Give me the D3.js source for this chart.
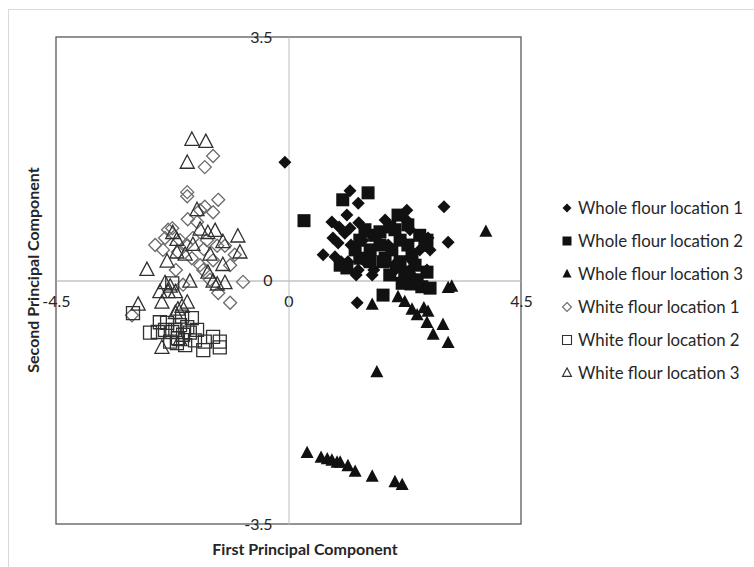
<html>
<head>
<meta charset="utf-8">
<script src="https://d3js.org/d3.v7.min.js"></script>
<style>
  body { margin: 0; background: #fff; }
  text { font-family: Lato, "Open Sans", sans-serif; fill: #262626; }
  .tick text { font-size: 16px; }
  .legend text { font-size: 16.8px; }
  .title { font-size: 16px; font-weight: bold; }
</style>
</head>
<body>
<script>
// series names (legend order)
var seriesNames = ["Whole flour location 1", "Whole flour location 2", "Whole flour location 3",
                   "White flour location 1", "White flour location 2", "White flour location 3"];
var xTicks = [-4.5, 0, 4.5];
var yTicks = [-3.5, 0, 3.5];

// whole flour location 1 (filled diamonds)
var wholeLoc1 = [[-0.07,1.70],[1.19,1.29],[1.35,1.11],[0.84,0.84],[1.19,0.75],[1.36,0.83],[0.86,0.61],
  [0.67,0.37],[1.71,0.63],[3.01,1.06],[3.09,0.55],[1.33,-0.32],[0.98,0.77],[1.09,0.68],[1.44,0.58],
  [1.60,0.65],[1.87,0.87],[2.29,1.01],[2.27,0.88],[2.35,0.73],[2.70,0.61],[2.74,0.44],[2.41,0.27],
  [2.04,0.22],[1.65,0.15],[1.35,0.15],[1.15,0.27],[0.90,0.34],[1.02,0.27],[1.31,0.08],[1.62,0.08],
  [2.06,0.15],[2.35,0.15],[2.68,0.15],[1.21,0.51],[0.96,0.54],[1.13,0.94],[1.48,0.27],[1.93,0.51],[2.54,0.44]];
// whole flour location 2 (filled squares)
var wholeLoc2 = [[0.30,0.86],[1.05,1.16],[1.54,1.26],[1.83,-0.21],[2.20,-0.04],[2.37,-0.05],[2.58,-0.09],
  [2.74,-0.11],[2.68,0.12],[1.13,0.18],[1.96,0.77],[2.68,0.58],[1.00,0.22],[1.38,0.32],[1.58,0.44],
  [1.77,0.51],[1.87,0.32],[2.00,0.44],[2.16,0.58],[2.31,0.51],[2.39,0.37],[2.06,0.73],[1.67,0.65],
  [1.48,0.73],[1.83,0.27],[2.16,0.27],[2.45,0.22],[2.64,0.51],[2.54,0.65],[2.31,0.80],[2.12,0.94],
  [1.29,0.44],[1.58,0.27],[1.96,0.08],[2.25,0.12],[1.77,0.70],[1.38,0.58],[2.49,0.01]];
// whole flour location 3 (filled triangles)
var wholeLoc3 = [[3.82,0.70],[3.09,-0.11],[3.16,-0.09],[1.71,-1.32],[1.62,-0.35],[2.41,0.08],[2.12,-0.24],
  [2.25,-0.31],[2.39,-0.42],[2.49,-0.50],[2.70,-0.45],[2.68,-0.61],[2.99,-0.64],[2.80,-0.78],[3.09,-0.90],
  [2.62,-0.40],[0.36,-2.48],[0.63,-2.55],[0.75,-2.57],[0.84,-2.59],[0.94,-2.62],[1.00,-2.62],[1.15,-2.67],
  [1.29,-2.75],[1.62,-2.82],[2.06,-2.90],[2.20,-2.94]];
// white flour location 1 (open diamonds)
var whiteLoc1 = [[-1.46,1.79],[-1.62,1.63],[-1.96,1.27],[-1.96,1.21],[-1.36,1.16],[-1.46,0.98],[-1.71,1.01],
  [-1.62,1.06],[-1.95,0.88],[-2.25,0.75],[-2.33,0.73],[-2.58,0.51],[-0.88,-0.02],[-1.13,-0.32],[-1.36,-0.18],
  [-1.71,0.22],[-1.87,0.32],[-3.03,-0.50],[-1.77,0.84],[-2.10,0.58],[-1.85,0.61],[-2.39,0.61],[-1.58,0.58],
  [-1.64,0.45],[-1.38,0.50],[-1.23,0.50],[-1.13,0.22],[-1.52,0.01],[-1.46,0.29],[-1.98,0.51],[-2.14,0.41],
  [-1.65,0.15],[-2.18,0.15],[-2.04,-0.06],[-2.43,0.44],[-1.04,0.37]];
// white flour location 2 (open squares)
var whiteLoc2 = [[-3.01,-0.47],[-2.25,-0.04],[-2.68,-0.75],[-2.49,-0.60],[-2.35,-0.61],[-2.19,-0.71],
  [-2.06,-0.52],[-1.87,-0.54],[-2.04,-0.78],[-1.91,-0.75],[-2.14,-0.83],[-2.29,-0.88],[-1.77,-0.71],
  [-1.62,-0.88],[-1.65,-1.00],[-1.46,-0.81],[-1.33,-0.88],[-1.33,-0.96],[-2.25,-0.74],[-1.96,-0.67],
  [-2.39,-0.71],[-2.53,-0.74],[-2.16,-0.90],[-2.00,-0.93],[-1.81,-0.86],[-2.10,-0.64]];
// white flour location 3 (open triangles)
var whiteLoc3 = [[-1.87,2.02],[-1.60,1.99],[-1.96,1.69],[-1.77,1.01],[-1.71,0.73],[-1.42,0.71],[-1.56,0.68],
  [-2.24,0.68],[-0.98,0.63],[-1.27,0.55],[-2.16,0.58],[-2.74,0.15],[-2.91,-0.35],[-1.91,-0.02],[-2.39,-0.04],
  [-2.29,-0.09],[-2.49,-0.17],[-2.33,-0.17],[-2.19,-0.17],[-2.45,-0.32],[-1.96,-0.32],[-2.06,-0.38],
  [-1.56,0.11],[-1.46,-0.02],[-1.23,-0.04],[-1.38,-0.06],[-1.27,0.22],[-2.16,0.40],[-0.94,0.40],
  [-1.52,0.37],[-2.19,-0.47],[-2.14,-0.42],[-2.45,-0.97],[-2.10,-0.86],[-2.00,0.37],[-1.85,0.51],[-2.35,0.27]];

var margin = {top: 37, left: 56},
    width = 465, height = 487;

var x = d3.scaleLinear().domain([-4.5, 4.5]).range([0, width]);
var y = d3.scaleLinear().domain([-3.5, 3.5]).range([height, 0]);

// marker path centred on 0,0
function marker(shape, r) {
  if (shape == "diamond") return "M0," + (-r) + "L" + r + ",0L0," + r + "L" + (-r) + ",0Z";
  if (shape == "square") return "M" + (-r) + "," + (-r) + "h" + 2*r + "v" + 2*r + "h" + (-2*r) + "Z";
  var h = r * 1.9;
  return "M0," + (-h * 0.6) + "L" + r + "," + (h * 0.4) + "L" + (-r) + "," + (h * 0.4) + "Z";
}

var series = [
  {data: wholeLoc1, shape: "diamond", r: 6.5, filled: true},
  {data: wholeLoc2, shape: "square", r: 6.5, filled: true},
  {data: wholeLoc3, shape: "triangle", r: 6.5, filled: true},
  {data: whiteLoc1, shape: "diamond", r: 6.5, filled: false, stroke: "#6b6b6b"},
  {data: whiteLoc2, shape: "square", r: 6.5, filled: false, stroke: "#303030"},
  {data: whiteLoc3, shape: "triangle", r: 7, filled: false, stroke: "#303030"}
];

var svg = d3.select("body").append("svg")
    .attr("width", 754)
    .attr("height", 567);

// chart area border
svg.append("rect")
    .attr("x", 8.5).attr("y", 9.5)
    .attr("width", 800).attr("height", 600)
    .attr("fill", "none").attr("stroke", "#d9d9d9");

var g = svg.append("g")
    .attr("transform", "translate(" + margin.left + "," + margin.top + ")");

// plot box
g.append("rect")
    .attr("width", width).attr("height", height)
    .attr("fill", "none").attr("stroke", "#595959").attr("stroke-width", 1.3);

var fmt = function(d) { return String(d); };

// x axis through y = 0
var xAxis = g.append("g")
    .attr("transform", "translate(0," + y(0) + ")")
    .call(d3.axisBottom(x).tickValues(xTicks).tickSize(0).tickPadding(15).tickFormat(fmt));
xAxis.select(".domain").attr("stroke", "#a6a6a6");

// y axis through x = 0
var yAxis = g.append("g")
    .attr("transform", "translate(" + x(0) + ",0)")
    .call(d3.axisLeft(y).tickValues(yTicks).tickSize(0).tickPadding(16).tickFormat(fmt));
yAxis.select(".domain").attr("stroke", "#bfbfbf");
g.selectAll(".tick text").attr("fill", "#262626").style("font-family", "Lato, sans-serif");

// points
series.forEach(function(s) {
  g.append("g").selectAll("path")
    .data(s.data)
    .enter().append("path")
      .attr("transform", function(d) { return "translate(" + x(d[0]) + "," + y(d[1]) + ")"; })
      .attr("d", marker(s.shape, s.r))
      .attr("fill", s.filled ? "#111" : "none")
      .attr("stroke", s.filled ? "none" : s.stroke)
      .attr("stroke-width", 1.3);
});

// axis titles
svg.append("text").attr("class", "title")
    .attr("x", 305).attr("y", 555)
    .attr("text-anchor", "middle")
    .text("First Principal Component");
svg.append("text").attr("class", "title")
    .attr("transform", "translate(39,270) rotate(-90)")
    .attr("text-anchor", "middle")
    .text("Second Principal Component");

// legend
var legend = svg.append("g").attr("class", "legend");
var rows = legend.selectAll("g")
    .data(series)
    .enter().append("g")
      .attr("transform", function(d, i) { return "translate(567," + (208 + i * 33) + ")"; });
rows.append("path")
    .attr("d", function(d) { return marker(d.shape, 4.5); })
    .attr("fill", function(d) { return d.filled ? "#111" : "none"; })
    .attr("stroke", function(d) { return d.filled ? "none" : d.stroke; })
    .attr("stroke-width", 1.1);
rows.append("text")
    .attr("x", 11).attr("dy", "0.35em")
    .text(function(d, i) { return seriesNames[i]; });
</script>
</body>
</html>
